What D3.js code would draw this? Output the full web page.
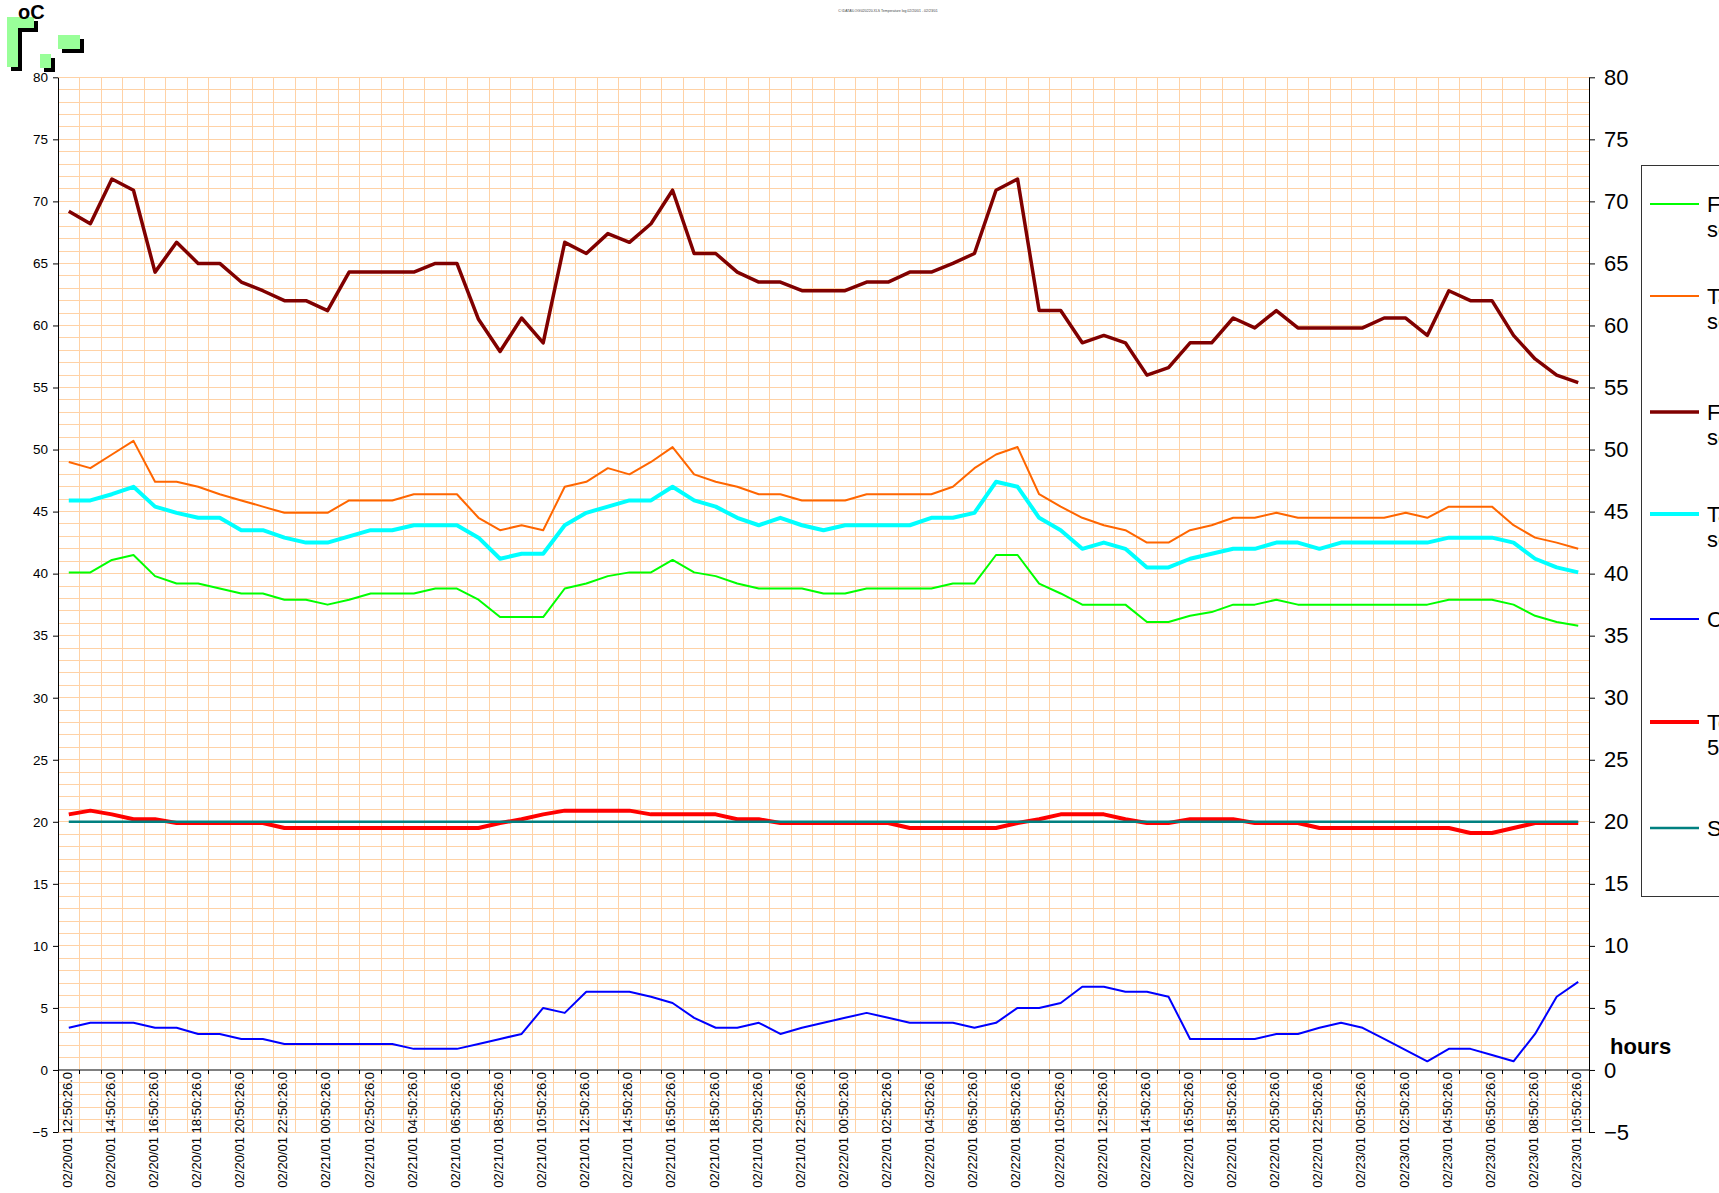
<!DOCTYPE html>
<html>
<head>
<meta charset="utf-8">
<script src="https://d3js.org/d3.v7.min.js"></script>
<style>
body { margin: 0; background: #fff; }
svg { display: block; font-family: "Liberation Sans", Arial, sans-serif; }
</style>
</head>
<body>
<svg id="chart"></svg>
<script>
// hourly log 02/20/01 12:50 -> 02/23/01 10:50
var categories = [
    "02/20/01 12:50:26.0", "02/20/01 13:50:26.0", "02/20/01 14:50:26.0", "02/20/01 15:50:26.0",
    "02/20/01 16:50:26.0", "02/20/01 17:50:26.0", "02/20/01 18:50:26.0", "02/20/01 19:50:26.0",
    "02/20/01 20:50:26.0", "02/20/01 21:50:26.0", "02/20/01 22:50:26.0", "02/20/01 23:50:26.0",
    "02/21/01 00:50:26.0", "02/21/01 01:50:26.0", "02/21/01 02:50:26.0", "02/21/01 03:50:26.0",
    "02/21/01 04:50:26.0", "02/21/01 05:50:26.0", "02/21/01 06:50:26.0", "02/21/01 07:50:26.0",
    "02/21/01 08:50:26.0", "02/21/01 09:50:26.0", "02/21/01 10:50:26.0", "02/21/01 11:50:26.0",
    "02/21/01 12:50:26.0", "02/21/01 13:50:26.0", "02/21/01 14:50:26.0", "02/21/01 15:50:26.0",
    "02/21/01 16:50:26.0", "02/21/01 17:50:26.0", "02/21/01 18:50:26.0", "02/21/01 19:50:26.0",
    "02/21/01 20:50:26.0", "02/21/01 21:50:26.0", "02/21/01 22:50:26.0", "02/21/01 23:50:26.0",
    "02/22/01 00:50:26.0", "02/22/01 01:50:26.0", "02/22/01 02:50:26.0", "02/22/01 03:50:26.0",
    "02/22/01 04:50:26.0", "02/22/01 05:50:26.0", "02/22/01 06:50:26.0", "02/22/01 07:50:26.0",
    "02/22/01 08:50:26.0", "02/22/01 09:50:26.0", "02/22/01 10:50:26.0", "02/22/01 11:50:26.0",
    "02/22/01 12:50:26.0", "02/22/01 13:50:26.0", "02/22/01 14:50:26.0", "02/22/01 15:50:26.0",
    "02/22/01 16:50:26.0", "02/22/01 17:50:26.0", "02/22/01 18:50:26.0", "02/22/01 19:50:26.0",
    "02/22/01 20:50:26.0", "02/22/01 21:50:26.0", "02/22/01 22:50:26.0", "02/22/01 23:50:26.0",
    "02/23/01 00:50:26.0", "02/23/01 01:50:26.0", "02/23/01 02:50:26.0", "02/23/01 03:50:26.0",
    "02/23/01 04:50:26.0", "02/23/01 05:50:26.0", "02/23/01 06:50:26.0", "02/23/01 07:50:26.0",
    "02/23/01 08:50:26.0", "02/23/01 09:50:26.0", "02/23/01 10:50:26.0"
];

var floorReturn = [40.1, 40.1, 41.1, 41.5, 39.8, 39.2, 39.2, 38.8, 38.4, 38.4, 37.9, 37.9, 37.5, 37.9, 38.4, 38.4, 38.4, 38.8,
    38.8, 37.9, 36.5, 36.5, 36.5, 38.8, 39.2, 39.8, 40.1, 40.1, 41.1, 40.1, 39.8, 39.2, 38.8, 38.8, 38.8, 38.4,
    38.4, 38.8, 38.8, 38.8, 38.8, 39.2, 39.2, 41.5, 41.5, 39.2, 38.4, 37.5, 37.5, 37.5, 36.1, 36.1, 36.6, 36.9,
    37.5, 37.5, 37.9, 37.5, 37.5, 37.5, 37.5, 37.5, 37.5, 37.5, 37.9, 37.9, 37.9, 37.5, 36.6, 36.1, 35.8];

var tankBottom = [49.0, 48.5, 49.6, 50.7, 47.4, 47.4, 47.0, 46.4, 45.9, 45.4, 44.9, 44.9, 44.9, 45.9, 45.9, 45.9, 46.4, 46.4,
    46.4, 44.5, 43.5, 43.9, 43.5, 47.0, 47.4, 48.5, 48.0, 49.0, 50.2, 48.0, 47.4, 47.0, 46.4, 46.4, 45.9, 45.9,
    45.9, 46.4, 46.4, 46.4, 46.4, 47.0, 48.5, 49.6, 50.2, 46.4, 45.4, 44.5, 43.9, 43.5, 42.5, 42.5, 43.5, 43.9,
    44.5, 44.5, 44.9, 44.5, 44.5, 44.5, 44.5, 44.5, 44.9, 44.5, 45.4, 45.4, 45.4, 43.9, 42.9, 42.5, 42.0];

var flowBoiler = [69.2, 68.2, 71.8, 70.9, 64.3, 66.7, 65.0, 65.0, 63.5, 62.8, 62.0, 62.0, 61.2, 64.3, 64.3, 64.3, 64.3, 65.0,
    65.0, 60.5, 57.9, 60.6, 58.6, 66.7, 65.8, 67.4, 66.7, 68.2, 70.9, 65.8, 65.8, 64.3, 63.5, 63.5, 62.8, 62.8,
    62.8, 63.5, 63.5, 64.3, 64.3, 65.0, 65.8, 70.9, 71.8, 61.2, 61.2, 58.6, 59.2, 58.6, 56.0, 56.6, 58.6, 58.6,
    60.6, 59.8, 61.2, 59.8, 59.8, 59.8, 59.8, 60.6, 60.6, 59.2, 62.8, 62.0, 62.0, 59.2, 57.3, 56.0, 55.4];

var tankTop = [45.9, 45.9, 46.4, 47.0, 45.4, 44.9, 44.5, 44.5, 43.5, 43.5, 42.9, 42.5, 42.5, 43.0, 43.5, 43.5, 43.9, 43.9,
    43.9, 42.9, 41.2, 41.6, 41.6, 43.9, 44.9, 45.4, 45.9, 45.9, 47.0, 45.9, 45.4, 44.5, 43.9, 44.5, 43.9, 43.5,
    43.9, 43.9, 43.9, 43.9, 44.5, 44.5, 44.9, 47.4, 47.0, 44.5, 43.5, 42.0, 42.5, 42.0, 40.5, 40.5, 41.2, 41.6,
    42.0, 42.0, 42.5, 42.5, 42.0, 42.5, 42.5, 42.5, 42.5, 42.5, 42.9, 42.9, 42.9, 42.5, 41.2, 40.5, 40.1];

var outdoor = [3.4, 3.8, 3.8, 3.8, 3.4, 3.4, 2.9, 2.9, 2.5, 2.5, 2.1, 2.1, 2.1, 2.1, 2.1, 2.1, 1.7, 1.7,
    1.7, 2.1, 2.5, 2.9, 5.0, 4.6, 6.3, 6.3, 6.3, 5.9, 5.4, 4.2, 3.4, 3.4, 3.8, 2.9, 3.4, 3.8,
    4.2, 4.6, 4.2, 3.8, 3.8, 3.8, 3.4, 3.8, 5.0, 5.0, 5.4, 6.7, 6.7, 6.3, 6.3, 5.9, 2.5, 2.5,
    2.5, 2.5, 2.9, 2.9, 3.4, 3.8, 3.4, 2.5, 1.6, 0.7, 1.7, 1.7, 1.2, 0.7, 2.9, 5.9, 7.1];

var roomTemp = [20.6, 20.9, 20.6, 20.2, 20.2, 19.9, 19.9, 19.9, 19.9, 19.9, 19.5, 19.5, 19.5, 19.5, 19.5, 19.5, 19.5, 19.5,
    19.5, 19.5, 19.9, 20.2, 20.6, 20.9, 20.9, 20.9, 20.9, 20.6, 20.6, 20.6, 20.6, 20.2, 20.2, 19.9, 19.9, 19.9,
    19.9, 19.9, 19.9, 19.5, 19.5, 19.5, 19.5, 19.5, 19.9, 20.2, 20.6, 20.6, 20.6, 20.2, 19.9, 19.9, 20.2, 20.2,
    20.2, 19.9, 19.9, 19.9, 19.5, 19.5, 19.5, 19.5, 19.5, 19.5, 19.5, 19.1, 19.1, 19.5, 19.9, 19.9, 19.9];

var setpoint = [20, 20, 20, 20, 20, 20, 20, 20, 20, 20, 20, 20, 20, 20, 20, 20, 20, 20,
    20, 20, 20, 20, 20, 20, 20, 20, 20, 20, 20, 20, 20, 20, 20, 20, 20, 20,
    20, 20, 20, 20, 20, 20, 20, 20, 20, 20, 20, 20, 20, 20, 20, 20, 20, 20,
    20, 20, 20, 20, 20, 20, 20, 20, 20, 20, 20, 20, 20, 20, 20, 20, 20];

var seriesNames = [
    ["Floor return", "sensor"],
    ["Tank bottom", "sensor"],
    ["Flow boiler", "sensor"],
    ["Tank top", "sensor"],
    ["Climate outdoor"],
    ["Temp. room", "5th floor"],
    ["Setpoint"]
];

var yTicks = [-5, 0, 5, 10, 15, 20, 25, 30, 35, 40, 45, 50, 55, 60, 65, 70, 75, 80];

// ---------- setup
var svgWidth = 1719, svgHeight = 1193;
var plotLeft = 58, plotRight = 1589, plotTop = 77.3, plotBottom = 1132;

var svg = d3.select("#chart")
    .attr("width", svgWidth)
    .attr("height", svgHeight);

var series = [
    {values: floorReturn, color: "#00ff00", width: 2},
    {values: tankBottom, color: "#ff6600", width: 2},
    {values: flowBoiler, color: "#800000", width: 3.5},
    {values: tankTop, color: "#00ffff", width: 4},
    {values: outdoor, color: "#0000ff", width: 2},
    {values: roomTemp, color: "#ff0000", width: 4},
    {values: setpoint, color: "#008080", width: 2.5}
];
series.forEach(function (s, i) { s.name = seriesNames[i]; });

var x = d3.scaleBand()
    .domain(categories)
    .range([plotLeft, plotRight]);

var y = d3.scaleLinear()
    .domain([-5, 80])
    .range([plotBottom, plotTop]);

// little decoration in the corner (green blocks with shadow)
var blocks = [[7, 17, 11, 50], [7, 17, 27, 11], [40, 54, 11, 14], [58, 35, 22, 14]];
var deco = svg.append("g");
blocks.forEach(function (r) {
    deco.append("rect").attr("x", r[0] + 4).attr("y", r[1] + 4)
        .attr("width", r[2]).attr("height", r[3]).attr("fill", "#000");
});
blocks.forEach(function (r) {
    deco.append("rect").attr("x", r[0]).attr("y", r[1])
        .attr("width", r[2]).attr("height", r[3]).attr("fill", "#99ff99");
});

svg.append("text")
    .attr("x", 18).attr("y", 19)
    .attr("font-size", "20px").attr("font-weight", "bold")
    .text("oC");

// tiny title at the top
svg.append("text")
    .attr("x", 888).attr("y", 12)
    .attr("text-anchor", "middle")
    .attr("font-size", "3.5px")
    .attr("fill", "#444")
    .text("C:\\DATA\\LOG\\020220.XLS  Temperature log 02/20/01 - 02/23/01");

// ---------- grid
var gridColor = "#ffd2a6";
var grid = svg.append("g").attr("shape-rendering", "crispEdges");
grid.selectAll("line.h")
    .data(d3.range(-5, 81))
    .enter()
    .append("line")
    .attr("class", "h")
    .attr("x1", plotLeft).attr("x2", plotRight)
    .attr("y1", function (d) { return y(d); })
    .attr("y2", function (d) { return y(d); })
    .attr("stroke", gridColor)
    .attr("stroke-width", 1);

grid.selectAll("line.v")
    .data(categories.slice(1))
    .enter()
    .append("line")
    .attr("class", "v")
    .attr("x1", function (d) { return x(d); })
    .attr("x2", function (d) { return x(d); })
    .attr("y1", plotTop).attr("y2", plotBottom)
    .attr("stroke", gridColor)
    .attr("stroke-width", 1);

// ---------- x axis (at zero)
var yZero = y(0);
svg.append("line")
    .attr("x1", plotLeft).attr("x2", plotRight)
    .attr("y1", yZero).attr("y2", yZero)
    .attr("stroke", "#808080")
    .attr("stroke-width", 2);

svg.append("g")
    .attr("shape-rendering", "crispEdges")
    .selectAll("line")
    .data(categories.slice(1))
    .enter()
    .append("line")
    .attr("x1", function (d) { return x(d); })
    .attr("x2", function (d) { return x(d); })
    .attr("y1", yZero).attr("y2", yZero + 4)
    .attr("stroke", "#000");

var xAxis = d3.axisBottom(x)
    .tickValues(categories.filter(function (d, i) { return i % 2 === 0; }))
    .tickSize(0);

var gx = svg.append("g")
    .attr("transform", "translate(0," + yZero + ")")
    .call(xAxis);
gx.attr("font-family", null);
gx.select(".domain").remove();
gx.selectAll("text")
    .attr("transform", "rotate(-90)")
    .attr("x", -2)
    .attr("y", 0)
    .attr("dy", "0.22em")
    .style("text-anchor", "end")
    .style("font-size", "13px")
    .attr("fill", "#000");

// ---------- y axes
var gl = svg.append("g")
    .attr("transform", "translate(" + plotLeft + ",0)")
    .call(d3.axisLeft(y).tickValues(yTicks).tickSize(5).tickSizeOuter(0).tickPadding(5));
gl.attr("font-family", null);
gl.selectAll("text").style("font-size", "13.5px").attr("fill", "#000");

var gr = svg.append("g")
    .attr("transform", "translate(" + plotRight + ",0)")
    .call(d3.axisRight(y).tickValues(yTicks).tickSize(6).tickSizeOuter(0).tickPadding(9));
gr.attr("font-family", null);
gr.selectAll("text").style("font-size", "22px").attr("fill", "#000");

svg.append("text")
    .attr("x", 1610).attr("y", 1054)
    .attr("font-size", "22px").attr("font-weight", "bold")
    .text("hours");

// ---------- lines
var line = d3.line()
    .x(function (d, i) { return x(categories[i]) + x.bandwidth() / 2; })
    .y(function (d) { return y(d); });

svg.append("g")
    .selectAll("path")
    .data(series)
    .enter()
    .append("path")
    .attr("fill", "none")
    .attr("stroke", function (d) { return d.color; })
    .attr("stroke-width", function (d) { return d.width; })
    .attr("stroke-linejoin", "round")
    .attr("d", function (d) { return line(d.values); });

// ---------- legend (runs off the right edge like the original)
var legendY = [204, 296, 412, 514, 619, 722, 828];
var legend = svg.append("g");
legend.append("rect")
    .attr("x", 1641.5).attr("y", 165.5)
    .attr("width", 120).attr("height", 731)
    .attr("fill", "#fff")
    .attr("stroke", "#333");

var item = legend.selectAll("g.item")
    .data(series)
    .enter()
    .append("g")
    .attr("class", "item")
    .attr("transform", function (d, i) { return "translate(0," + legendY[i] + ")"; });

item.append("line")
    .attr("x1", 1650).attr("x2", 1699)
    .attr("stroke", function (d) { return d.color; })
    .attr("stroke-width", function (d) { return d.width; });

item.append("text")
    .attr("x", 1707)
    .attr("font-size", "22px")
    .selectAll("tspan")
    .data(function (d) { return d.name; })
    .enter()
    .append("tspan")
    .attr("x", 1707)
    .attr("y", function (d, i) { return i * 25; })
    .attr("dy", "0.35em")
    .text(function (d) { return d; });
</script>
</body>
</html>
